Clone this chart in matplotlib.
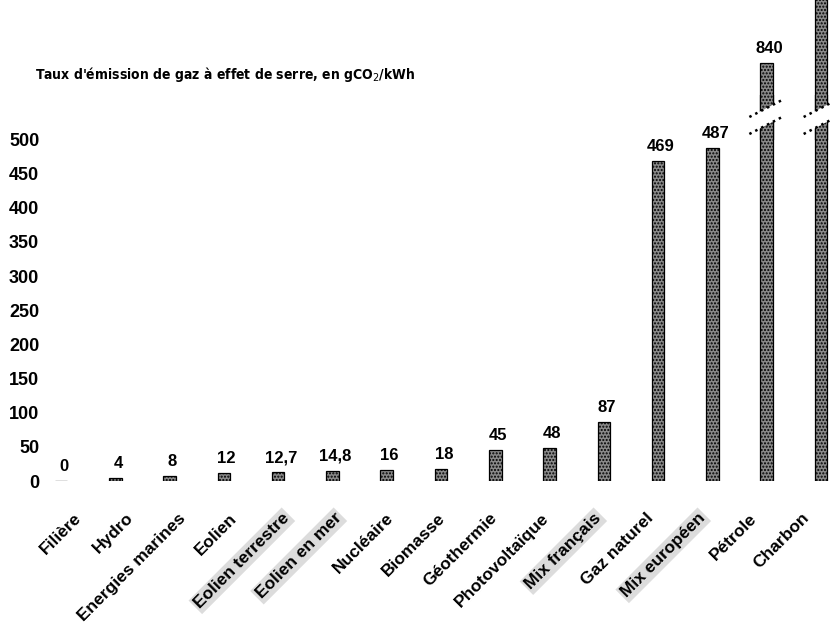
import matplotlib
matplotlib.use("Agg")
import matplotlib.pyplot as plt
from matplotlib.patches import Polygon
from matplotlib.lines import Line2D
from matplotlib.transforms import ScaledTranslation, blended_transform_factory

plt.rcParams['font.family'] = ['Liberation Sans', 'DejaVu Sans']

# data (gCO2/kWh)
filieres = ["Filière", "Hydro", "Energies marines", "Eolien", "Eolien terrestre",
            "Eolien en mer", "Nucléaire", "Biomasse", "Géothermie", "Photovoltaïque",
            "Mix français", "Gaz naturel", "Mix européen", "Pétrole", "Charbon"]
emissions = [0, 4, 8, 12, 12.7, 14.8, 16, 18, 45, 48, 87, 469, 487, 840, 1001]
highlighted = ["Eolien terrestre", "Eolien en mer", "Mix français", "Mix européen"]
yticks = [0, 50, 100, 150, 200, 250, 300, 350, 400, 450, 500]

W, H = 830, 622
fig = plt.figure(figsize=(W / 100, H / 100), dpi=100)

# broken y axis: lower part 0..~565, upper part ~727..932
left, right = 42 / W, 798 / W
ax = fig.add_axes([left, (H - 481) / H, right, (481 - 95) / H])
ax_top = fig.add_axes([left, (H - 140) / H, right, 140 / H])
for a in (ax, ax_top):
    a.patch.set_alpha(0)
    for s in a.spines.values():
        s.set_visible(False)
    a.set_xlim(-0.35, 14.35)

ax.set_ylim(0, (481 - 95) / 0.683)
ax_top.set_ylim(840 - 77 / 0.683, 840 + 63 / 0.683)

x = list(range(len(filieres)))
bar_style = dict(width=0.23, color='#8a8a8a', edgecolor='black', hatch='.....', linewidth=0.9)
ax.bar(x, emissions, **bar_style)
ax_top.bar(x, emissions, **bar_style)

# value labels
for a in (ax, ax_top):
    for xi, v in zip(x, emissions):
        a.annotate(f"{v:g}".replace('.', ','), (xi, v), xytext=(2, 5),
                   textcoords='offset points', ha='center', va='bottom',
                   fontsize=12, fontweight='bold')

ax.set_yticks(yticks)
ax.set_yticklabels([str(t) for t in yticks], fontsize=13, fontweight='bold')
ax.tick_params(axis='y', length=0, pad=2)
ax_top.set_yticks([])
ax_top.set_xticks([])

ax.set_xticks(x)
ax.set_xticklabels(filieres, rotation=45, ha='right', va='center',
                   rotation_mode='anchor', fontsize=12.5, fontweight='bold')
ax.tick_params(axis='x', length=0, pad=25)
for i, lab in enumerate(ax.get_xticklabels()):
    # labels drift slightly left of the bars towards the right of the chart
    dx = (18 - 2.3 * i) / 100
    lab.set_transform(lab.get_transform() + ScaledTranslation(dx, 0, fig.dpi_scale_trans))
    if lab.get_text() in highlighted:
        lab.set_bbox(dict(facecolor='#dcdcdc', edgecolor='none', pad=1.5))

# break marks on the two tallest bars
blend = blended_transform_factory(ax.transData, fig.transFigure)
hw, rise = 0.32, 9 / H
y_up, y_low = 1 - 108 / H, 1 - 125 / H
for xi in (13, 14):
    fig.add_artist(Polygon([(xi - hw, y_up - rise), (xi + hw, y_up + rise),
                            (xi + hw, y_low + rise), (xi - hw, y_low - rise)],
                           closed=True, facecolor='white', edgecolor='none',
                           transform=blend, zorder=3))
    for yy in (y_up, y_low):
        fig.add_artist(Line2D([xi - hw, xi + hw], [yy - rise, yy + rise],
                              color='black', linestyle=':', linewidth=1.8,
                              transform=blend, zorder=4))

fig.text(225 / W, 1 - 74 / H, "Taux d'émission de gaz à effet de serre, en gCO$_2$/kWh",
         ha='center', va='center', fontsize=10, fontweight='bold',
         family='DejaVu Sans', fontstretch='condensed')

fig.savefig("out.png", dpi=100)
